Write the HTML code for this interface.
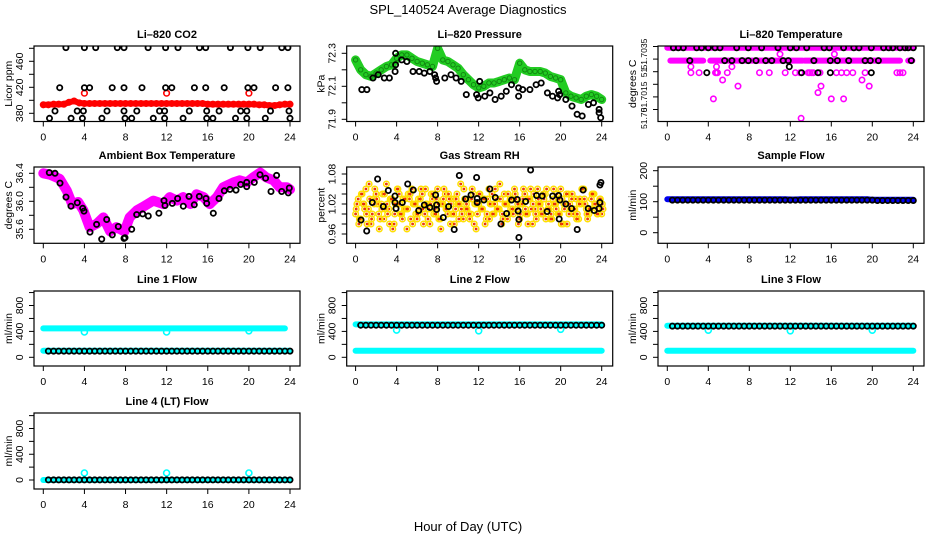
<!DOCTYPE html>
<html><head><meta charset="utf-8">
<style>
html,body{margin:0;padding:0;background:#fff;}
svg{display:block;font-family:"Liberation Sans",Arial,sans-serif;}
</style></head>
<body>
<svg id="chart" width="936" height="540" viewBox="0 0 936 540" xmlns="http://www.w3.org/2000/svg">
<rect x="0" y="0" width="936" height="540" fill="#fff"/>
<text x="468" y="14" text-anchor="middle" font-size="13">SPL_140524  Average Diagnostics</text>
<text x="468" y="531" text-anchor="middle" font-size="13">Hour of Day (UTC)</text>
</svg>
<script>
// ---------------- DATA ----------------
const xTicks = [0,4,8,12,16,20,24];
const halfHours = Array.from({length:49},(_, i)=>i*0.5);
const halfHoursB = Array.from({length:48},(_, i)=>0.5+i*0.5);
const quarterHours = Array.from({length:97},(_, i)=>i*0.25);

// CO2
const co2Red = [393,393,394,394,394,397,399,396,395,395,395,395,395,395,395,395,395,395,395,395,395,395,395,395,395,395,395,395,395,395,395,395,394,394,394,394,394,394,394,394,394,394,393,393,392,392,393,394,394];
const co2RedOutHours = [4,12,20];
const co2RedOutVals = [411,411,411];
const co2TopHours = [2.2,4.0,5.1,7.2,7.85,10.2,11.9,13.1,15.2,15.8,18.2,19.9,21.1,23.2,23.8];
const co2MidHours = [1.6,4.0,4.5,6.7,7.85,9.6,11.9,12.5,14.7,15.8,17.6,19.9,20.5,22.6,23.8];
const co2LowHours = [1.14,3.3,3.9,6.2,7.85,9.1,11.3,11.8,14.2,15.9,17.1,19.2,19.8,22.1,23.9];
const co2BotHours = [0.6,2.7,3.8,5.7,7.95,8.6,10.7,11.8,13.6,15.9,16.5,18.7,19.8,21.6,24.0];
const co2Levels = [481,419.4,383.5,372.3];

// Pressure
const presGreen = [72.26,72.2,72.17,72.16,72.18,72.2,72.22,72.23,72.27,72.29,72.29,72.27,72.25,72.24,72.23,72.22,72.33,72.26,72.25,72.23,72.21,72.17,72.14,72.11,72.09,72.1,72.12,72.12,72.13,72.14,72.15,72.14,72.24,72.2,72.19,72.19,72.19,72.18,72.16,72.15,72.14,72.06,72.04,72.03,72.02,72.04,72.05,72.04,72.02];
const presBlackHours = [0.6,1.1,1.7,2.2,2.8,3.3,3.85,3.9,3.9,4.5,5.0,5.6,6.2,6.7,7.25,7.7,7.8,7.9,8.7,9.3,9.8,10.3,10.8,11.8,11.96,12.1,12.6,13.1,13.6,14.2,14.7,15.2,15.9,15.9,16.3,17.0,17.6,18.1,18.7,19.2,19.7,19.8,19.9,20.5,21.1,21.6,22.1,22.7,23.2,23.75,23.75,23.9];
const presBlackVals = [72.08,72.08,72.15,72.17,72.15,72.15,72.19,72.23,72.3,72.26,72.25,72.19,72.19,72.18,72.19,72.17,72.15,72.13,72.15,72.17,72.15,72.13,72.05,72.05,72.03,72.13,72.04,72.06,72.02,72.04,72.07,72.11,72.09,72.04,72.08,72.08,72.11,72.12,72.06,72.04,72.03,72.07,72.05,72.02,71.98,71.93,71.92,71.99,72.0,71.96,71.94,71.91];

// Li-820 temperature
const tempTopLevel = 51.70345;
const tempBand2Level = 51.70294;
const tempBand2Start = [0.3,2.2,4.2,13.4,23.5];
const tempBand2End = [1.9,3.5,13.2,22.7,23.9];
const tempMagHours = [2.3,3.1,4.7,4.8,4.9,5.85,9.0,9.95,11.5,12.5,12.95,13.75,13.9,14.1,14.25,14.9,16.5,17.0,17.5,18.1,19.3,22.4,22.7,23.0,2.3,4.8,6.3,5.4,6.9,11.0,16.3,4.5,14.7,15.0,16.0,17.2,19.0,19.7,13.05];
const tempMagVals = [51.70246,51.70246,51.70246,51.70246,51.70246,51.70246,51.70246,51.70246,51.70246,51.70246,51.70246,51.70246,51.70246,51.70246,51.70246,51.70246,51.70246,51.70246,51.70246,51.70246,51.70246,51.70246,51.70246,51.70246,51.7027,51.7027,51.7027,51.70217,51.70193,51.7032,51.7032,51.70142,51.70167,51.70193,51.70142,51.70142,51.70217,51.70193,51.70065];
const tempBlackTopHours = [0.6,1.07,1.56,2.87,3.35,4.0,4.65,5.14,6.77,7.9,9.2,10.8,12.0,12.6,13.6,15.3,15.8,17.2,18.2,18.7,19.9,21.1,21.6,22.0,22.7,23.2,23.5,24.0];
const tempBlackMidHours = [2.2,5.6,6.3,7.3,7.9,8.65,9.6,10.2,11.3,11.8,14.3,15.9,16.6,17.7,19.3,19.8,20.6,23.8];
const tempBlackLowHours = [3.85,13.1,14.7,15.9,19.9,11.9];
const tempBlackLowVals = [51.70246,51.70246,51.70246,51.70246,51.70246,51.7027];

// Ambient box temperature
const ambBandHours = [0,0.65,1.6,2.3,2.8,3.4,3.9,4.5,5.2,5.85,6.5,7.1,7.9,8.4,9.1,9.7,10.7,11.7,12.3,13.0,13.6,14.3,14.9,15.6,16.2,16.9,17.5,18.5,19.1,19.8,20.4,21.1,21.7,22.4,23.0,23.7,24.0];
const ambBandVals = [36.4,36.38,36.32,36.15,35.96,35.99,35.87,35.63,35.68,35.77,35.57,35.63,35.57,35.77,35.87,35.92,36.01,35.96,36.06,36.01,36.06,35.96,36.1,36.06,35.96,36.06,36.2,36.27,36.3,36.27,36.34,36.41,36.34,36.3,36.2,36.2,36.17];
const ambBlackHours = [0.58,1.14,1.62,2.21,2.69,3.31,3.83,3.96,4.54,5.19,5.68,6.17,6.71,7.3,7.85,7.95,8.6,9.09,9.67,10.21,11.25,11.74,11.84,12.55,13.07,13.62,14.17,14.69,15.18,15.83,15.9,16.54,17.09,17.61,18.16,18.75,19.2,19.79,19.79,20.53,21.08,21.63,22.15,22.7,23.19,23.83,23.93];
const ambBlackVals = [36.41,36.4,36.26,36.06,35.93,35.98,35.9,35.86,35.56,35.67,35.46,35.74,35.52,35.64,35.47,35.48,35.6,35.81,35.82,35.79,35.83,36.01,35.94,35.97,36.04,35.93,36.07,35.95,36.07,36.04,35.97,35.83,36.04,36.15,36.17,36.16,36.24,36.27,36.21,36.27,36.38,36.33,36.14,36.37,36.14,36.12,36.19];

// Gas stream RH
const rhA = [1.00,1.03,0.99,1.02,1.05,1.01,0.98,1.03,1.04,1.00,1.02,0.99,1.06,1.01,1.03,0.98,1.02,1.04,1.00,1.01,0.97,1.03,1.05,1.02,0.99,1.01,1.04,1.00,1.02,0.98,1.03,1.01,1.05,0.99,1.02,1.04,1.00,0.98,1.03,1.01,1.02,1.06,0.99,1.01,1.03,1.00,1.04,0.97,1.02,1.01,1.03,0.99,1.05,1.02,1.00,1.03,1.01,0.98,1.04,1.02,1.00,1.03,1.05,1.01,0.99,1.02,1.04,1.00,1.03,0.98,1.01,1.05,1.02,1.00,1.04,1.01,0.99,1.03,1.02,1.00,1.05,0.98,1.02,1.04,1.01,1.00,1.03,0.99,1.02,1.05,1.01,1.00,1.03,1.04,1.01,1.02,1.00];
const rhB = [1.02,0.99,1.04,1.01,0.98,1.03,1.00,1.05,1.02,0.99,1.04,1.01,1.00,1.03,0.97,1.02,1.05,1.00,1.03,1.01,1.04,0.99,1.02,1.00,1.03,1.05,0.98,1.02,1.01,1.04,1.00,1.03,0.99,1.02,1.05,1.01,1.03,1.00,0.98,1.04,1.02,1.00,1.03,1.01,0.99,1.05,1.02,1.00,1.04,1.01,0.98,1.03,1.02,1.00,1.05,1.01,1.03,0.99,1.02,1.04,1.01,1.00,1.03,0.98,1.02,1.05,1.00,1.03,1.01,1.04,0.99,1.02,1.00,1.03,1.05,1.01,0.99,1.02,1.04,1.00,1.03,1.01,0.98,1.02,1.04,1.01,1.00,1.03,1.05,1.02,0.99,1.01,1.04,1.02,1.00,1.03,1.01];
const rhC = [1.01,0.98,1.04,1.02,1.00,1.06,0.99,1.02,1.03,0.97,1.01,1.04,1.02,0.98,1.03,1.00,1.05,1.02,0.99,1.03,1.01,1.04,0.98,1.02,1.00,1.03,1.01,1.05,0.99,1.02,1.04,1.00,1.02,0.97,1.03,1.01,1.04,1.02,1.00,1.03,0.99,1.01,1.05,1.02,1.00,1.03,0.98,1.02,1.04,1.01,1.03,1.00,0.99,1.04,1.02,1.01,1.06,1.00,1.02,0.99,1.03,1.01,1.04,1.02,1.00,1.03,1.01,0.98,1.05,1.02,1.00,1.03,1.01,1.04,0.99,1.02,1.00,1.05,1.01,1.03,0.98,1.02,1.04,1.00,1.03,1.01,0.99,1.02,1.05,1.03,1.00,1.01,1.04,1.02,1.00,1.03,1.02];
const rhBlackHours = [0.53,1.08,1.63,2.15,2.7,3.19,3.84,3.84,3.94,4.55,5.08,5.63,6.15,6.7,7.25,7.8,7.9,7.9,8.55,9.07,9.62,10.11,10.73,11.25,11.8,11.86,11.86,12.51,13.1,13.62,14.17,14.73,15.21,15.76,15.86,15.93,15.93,16.58,17.07,17.65,18.2,18.68,19.21,19.8,19.86,19.92,20.5,21.06,21.61,22.19,22.68,23.27,23.75,23.82,23.82,23.92];
const rhBlackVals = [0.988,0.966,1.023,1.07,1.015,1.047,1.036,1.023,1.011,1.023,1.06,1.048,1.007,1.018,1.013,1.038,1.018,1.009,0.993,1.015,0.969,1.077,1.03,1.038,1.073,1.031,1.023,1.028,1.05,1.033,0.98,1.001,1.028,1.029,1.006,0.989,0.953,1.025,1.088,1.037,1.036,1.005,1.036,1.037,0.99,1.028,1.02,1.011,0.969,1.048,1.011,1.007,1.011,1.023,1.058,1.063];

// Sample flow
const sfBlue = [108,108,108,108,108,108,108,108,108,108,108,108,108,108,108,108,108,108,108,108,108,108,108,108,107,107,108,108,108,108,108,108,108,108,108,108,108,108,108,108,106,106,106,106,106,106,106,106,106];
const sfBlack = [105,105,105,105,105,105,105,105,105,105,105,105,105,105,105,105,105,105,105,105,105,105,105,105,105,105,105,105,105,105,105,105,105,105,105,105,105,105,105,105,104,104,104,104,104,104,104,104];

// Line flows (ml/min)
const l1High = [446,446,446,446,446,446,446,446,446,446,446,446,446,446,446,446,446,446,446,446,446,446,446,446,446,446,446,446,446,446,446,446,446,446,446,446,446,446,446,446,446,446,446,446,446,446,446,446,446];
const l1Low = [101,101,101,101,101,101,101,101,101,101,101,101,101,101,101,101,101,101,101,101,101,101,101,101,101,101,101,101,101,101,101,101,101,101,101,101,101,101,101,101,101,101,101,101,101,101,101,101,101];
const l1Black = [95,95,95,95,95,95,95,95,95,95,95,95,95,95,95,95,95,95,95,95,95,95,95,95,95,95,95,95,95,95,95,95,95,95,95,95,95,95,95,95,95,95,95,95,95,95,95,95];
const l2High = [508,508,508,508,508,508,508,508,508,508,508,508,508,508,508,508,508,508,508,508,508,508,508,508,508,508,508,508,508,508,508,508,508,508,508,508,508,508,508,508,508,508,508,508,508,508,508,508,508];
const l2Low = l1Low;
const l2Black = [495,495,495,495,495,495,495,495,495,495,495,495,495,495,495,495,495,495,495,495,495,495,495,495,495,495,495,495,495,495,495,495,495,495,495,495,495,495,495,495,495,495,495,495,495,495,495,495];
const l3High = [486,486,486,486,486,486,486,486,486,486,486,486,486,486,486,486,486,486,486,486,486,486,486,486,486,486,486,486,486,486,486,486,486,486,486,486,486,486,486,486,486,486,486,486,486,486,486,486,486];
const l3Low = l1Low;
const l3Black = [482,482,482,482,482,482,482,482,482,482,482,482,482,482,482,482,482,482,482,482,482,482,482,482,482,482,482,482,482,482,482,482,482,482,482,482,482,482,482,482,482,482,482,482,482,482,482,482];
const l4Cyan = [0,0,0,0,0,0,0,0,0,0,0,0,0,0,0,0,0,0,0,0,0,0,0,0,0,0,0,0,0,0,0,0,0,0,0,0,0,0,0,0,0,0,0,0,0,0,0,0,0];
const l4Black = [2,2,2,2,2,2,2,2,2,2,2,2,2,2,2,2,2,2,2,2,2,2,2,2,2,2,2,2,2,2,2,2,2,2,2,2,2,2,2,2,2,2,2,2,2,2,2,2];
const outHours = [4,12,20];
const l1Out = [390,390,410];
const l2Out = [420,410,432];
const l3Out = [418,410,418];
const l4Out = [108,108,108];

// ---------------- DRAWING ----------------
const NS = 'http://www.w3.org/2000/svg';
const svg = document.getElementById('chart');
const cols = [{L:34,R:300,x0:43.3,x24:290},{L:346.7,R:612.7,x0:355.6,x24:601.7},{L:658,R:924,x0:667.3,x24:913.3}];
const rows = [{T:46,B:121.5},{T:167,B:243.3},{T:291,B:366},{T:413,B:489}];
const flowTicks = [0,200,400,600,800,1000];
const flowLabels = [0,400,800];

function mk(tag, attrs, parent){
  const e = document.createElementNS(NS, tag);
  for (const k in attrs) e.setAttribute(k, attrs[k]);
  (parent||svg).appendChild(e);
  return e;
}

function makePanel(id, ci, ri, yref, yticks, ylabVals, ylabTexts, ylab, title, labFont){
  const c = cols[ci], r = rows[ri];
  const fs = labFont || 10.5;
  const g = mk('g', {});
  
  
  const sx = h => c.x0 + h*(c.x24 - c.x0)/24;
  const sy = v => yref[1] + (v - yref[0])*(yref[3]-yref[1])/(yref[2]-yref[0]);
  const data = mk('g', {}, g);
  
  
  const clipId = 'clip-' + id;
  const cp = mk('clipPath', {id: clipId}, g);
  mk('rect', {x:c.L, y:r.T, width:c.R-c.L, height:r.B-r.T}, cp);
  data.setAttribute('clip-path', 'url(#' + clipId + ')');
  const axes = mk('g', {}, g);
  
  
  const box = mk('rect', {x:c.L, y:r.T, width:c.R-c.L, height:r.B-r.T, fill:'none', stroke:'#000', 'stroke-width':1.2}, axes);
  
  
  xTicks.forEach(t => {
    const x = sx(t);
    const tk = mk('line', {x1:x, x2:x, y1:r.B, y2:r.B+5, stroke:'#000', 'stroke-width':1}, axes);
    
    
    const tl = mk('text', {x:x, y:r.B+19, 'text-anchor':'middle', 'font-size':10.5}, axes);
    tl.textContent = t;
    
    
  });
  yticks.forEach(t => {
    const y = sy(t);
    const tk = mk('line', {x1:c.L-5, x2:c.L, y1:y, y2:y, stroke:'#000', 'stroke-width':1}, axes);
    
    
  });
  ylabVals.forEach((t, i) => {
    const y = sy(t);
    const tl = mk('text', {x:c.L-11, y:y, 'text-anchor':'middle', 'font-size':fs, transform:'rotate(-90 '+(c.L-11)+' '+y+')'}, axes);
    tl.textContent = ylabTexts[i];
    
    
  });
  const my = (r.T + r.B)/2;
  const yl = mk('text', {x:c.L-22, y:my, 'text-anchor':'middle', 'font-size':10.5, transform:'rotate(-90 '+(c.L-22)+' '+my+')'}, axes);
  yl.textContent = ylab;
  
  
  const tt = mk('text', {x:(c.L+c.R)/2, y:r.T-8, 'text-anchor':'middle', 'font-size':11, 'font-weight':'bold'}, axes);
  tt.textContent = title;
  
  
  return {g:data, sx, sy};
}

function band(p, name, hours, vals, color, w){
  const pts = hours.map((h,i) => p.sx(h).toFixed(1) + ',' + p.sy(vals[i]).toFixed(1)).join(' ');
  const pl = mk('polyline', {points:pts, fill:'none', stroke:color, 'stroke-width':w, 'stroke-linejoin':'round', 'stroke-linecap':'round'}, p.g);
  
  
}
function pts(p, name, hours, vals, color, r, sw){
  const g = mk('g', {}, p.g);
  
  
  hours.forEach((h,i) => {
    const c = mk('circle', {cx:p.sx(h).toFixed(1), cy:p.sy(vals[i]).toFixed(1), r:r, fill:'none', stroke:color, 'stroke-width':sw}, g);
    
    
  });
}
const K = '#000';
const BR = 2.6, BW = 1.8;

// Panel 1: CO2
const pCO2 = makePanel('li820-co2', 0, 0, [380,113.3,460,61.3], [380,400,420,440,460,480], [380,420,460], ['380','420','460'], 'Licor ppm', 'Li\u2013820 CO2');
band(pCO2, 'co2-red-band', halfHours, co2Red, '#ff0000', 6);
pts(pCO2, 'co2-red-series', halfHours, co2Red, '#ff0000', 2.8, 1.5);
pts(pCO2, 'co2-red-outliers', co2RedOutHours, co2RedOutVals, '#ff0000', 2.8, 1.6);
pts(pCO2, 'co2-black-top', co2TopHours, co2TopHours.map(()=>co2Levels[0]), K, BR, BW);
pts(pCO2, 'co2-black-mid', co2MidHours, co2MidHours.map(()=>co2Levels[1]), K, BR, BW);
pts(pCO2, 'co2-black-low', co2LowHours, co2LowHours.map(()=>co2Levels[2]), K, BR, BW);
pts(pCO2, 'co2-black-bottom', co2BotHours, co2BotHours.map(()=>co2Levels[3]), K, BR, BW);

// Panel 2: pressure
const pPres = makePanel('li820-pressure', 1, 0, [71.9,119.3,72.3,53.3], [71.9,72.0,72.1,72.2,72.3], [71.9,72.1,72.3], ['71.9','72.1','72.3'], 'kPa', 'Li\u2013820 Pressure');
band(pPres, 'pressure-green-band', halfHours, presGreen, '#22cc22', 9);
pts(pPres, 'pressure-green-series', halfHours, presGreen, '#118811', 2.2, 1);
pts(pPres, 'pressure-black-series', presBlackHours, presBlackVals, K, BR, BW);

// Panel 3: Li-820 temperature
const pTemp = makePanel('li820-temperature', 2, 0, [51.7035,46.5,51.7015,96.9], [51.7035,51.703,51.7025,51.702,51.7015,51.701], [51.7032,51.70247,51.7015,51.70065], ['51.7035','51','51.7015','51.70'], 'degrees C', 'Li\u2013820 Temperature', 8.5);
band(pTemp, 'temp-magenta-top-band', [0,24], [tempTopLevel,tempTopLevel], '#ff00ff', 6);
tempBand2Start.forEach((s,i) => band(pTemp, 'temp-magenta-mid-band', [s, tempBand2End[i]], [tempBand2Level,tempBand2Level], '#ff00ff', 6));
pts(pTemp, 'temp-magenta-points', tempMagHours, tempMagVals, '#ff00ff', 2.7, 1.6);
pts(pTemp, 'temp-black-top', tempBlackTopHours, tempBlackTopHours.map(()=>tempTopLevel), K, BR, BW);
pts(pTemp, 'temp-black-mid', tempBlackMidHours, tempBlackMidHours.map(()=>tempBand2Level), K, BR, BW);
pts(pTemp, 'temp-black-low', tempBlackLowHours, tempBlackLowVals, K, BR, BW);

// Panel 4: ambient box temperature
const pAmb = makePanel('ambient-box-temperature', 0, 1, [36.4,173.3,35.6,229.3], [35.6,35.8,36.0,36.2,36.4], [35.6,36.0,36.4], ['35.6','36.0','36.4'], 'degrees C', 'Ambient Box Temperature');
band(pAmb, 'ambient-magenta-band', ambBandHours, ambBandVals, '#ff00ff', 10);
pts(pAmb, 'ambient-black-series', ambBlackHours, ambBlackVals, K, BR, BW);

// Panel 5: Gas stream RH
const pRH = makePanel('gas-stream-rh', 1, 1, [1.08,174,0.96,234], [0.96,0.98,1.0,1.02,1.04,1.06,1.08], [0.96,1.02,1.08], ['0.96','1.02','1.08'], 'percent', 'Gas Stream RH');
[[rhA,0],[rhB,0.125],[rhC,0.0625]].forEach(([arr,off],k) => {
  const hrs = quarterHours.slice(0, arr.length).map(h => h + off);
  pts(pRH, 'rh-yellow-series', hrs, arr, '#ffe000', 2.8, 1.5);
  pts(pRH, 'rh-red-core', hrs, arr, '#e83000', 0.8, 1.2);
});
pts(pRH, 'rh-black-series', rhBlackHours, rhBlackVals, K, BR, BW);

// Panel 6: Sample flow
const pSF = makePanel('sample-flow', 2, 1, [200,170.7,0,232.7], [0,50,100,150,200], [0,100,200], ['0','100','200'], 'ml/min', 'Sample Flow');
band(pSF, 'sample-flow-blue-band', halfHours, sfBlue, '#0000ee', 6);
pts(pSF, 'sample-flow-black-series', halfHoursB, sfBlack, K, BR, BW);

// Panels 7-10: line flows
const pL1 = makePanel('line1-flow', 0, 2, [0,357.3,800,305.5], flowTicks, flowLabels, ['0','400','800'], 'ml/min', 'Line 1 Flow');
band(pL1, 'line1-cyan-high', halfHours.slice(0,48), l1High.slice(0,48), '#00ffff', 6);
band(pL1, 'line1-cyan-low', halfHours, l1Low, '#00ffff', 6);
pts(pL1, 'line1-cyan-outliers', outHours, l1Out, '#00ffff', 3, 1.6);
pts(pL1, 'line1-black-series', halfHoursB, l1Black, K, BR, BW);

const pL2 = makePanel('line2-flow', 1, 2, [0,357.3,800,305.5], flowTicks, flowLabels, ['0','400','800'], 'ml/min', 'Line 2 Flow');
band(pL2, 'line2-cyan-high', halfHours, l2High, '#00ffff', 6);
band(pL2, 'line2-cyan-low', halfHours, l2Low, '#00ffff', 6);
pts(pL2, 'line2-cyan-outliers', outHours, l2Out, '#00ffff', 3, 1.6);
pts(pL2, 'line2-black-series', halfHoursB, l2Black, K, BR, BW);

const pL3 = makePanel('line3-flow', 2, 2, [0,357.3,800,305.5], flowTicks, flowLabels, ['0','400','800'], 'ml/min', 'Line 3 Flow');
band(pL3, 'line3-cyan-high', halfHours, l3High, '#00ffff', 6);
band(pL3, 'line3-cyan-low', halfHours, l3Low, '#00ffff', 6);
pts(pL3, 'line3-cyan-outliers', outHours, l3Out, '#00ffff', 3, 1.6);
pts(pL3, 'line3-black-series', halfHoursB, l3Black, K, BR, BW);

const pL4 = makePanel('line4-lt-flow', 0, 3, [0,480,800,428.5], flowTicks, flowLabels, ['0','400','800'], 'ml/min', 'Line 4 (LT) Flow');
band(pL4, 'line4-cyan-band', halfHours, l4Cyan, '#00ffff', 6);
pts(pL4, 'line4-cyan-outliers', outHours, l4Out, '#00ffff', 3, 1.6);
pts(pL4, 'line4-black-series', halfHoursB, l4Black, K, BR, BW);
</script>
</body></html>
